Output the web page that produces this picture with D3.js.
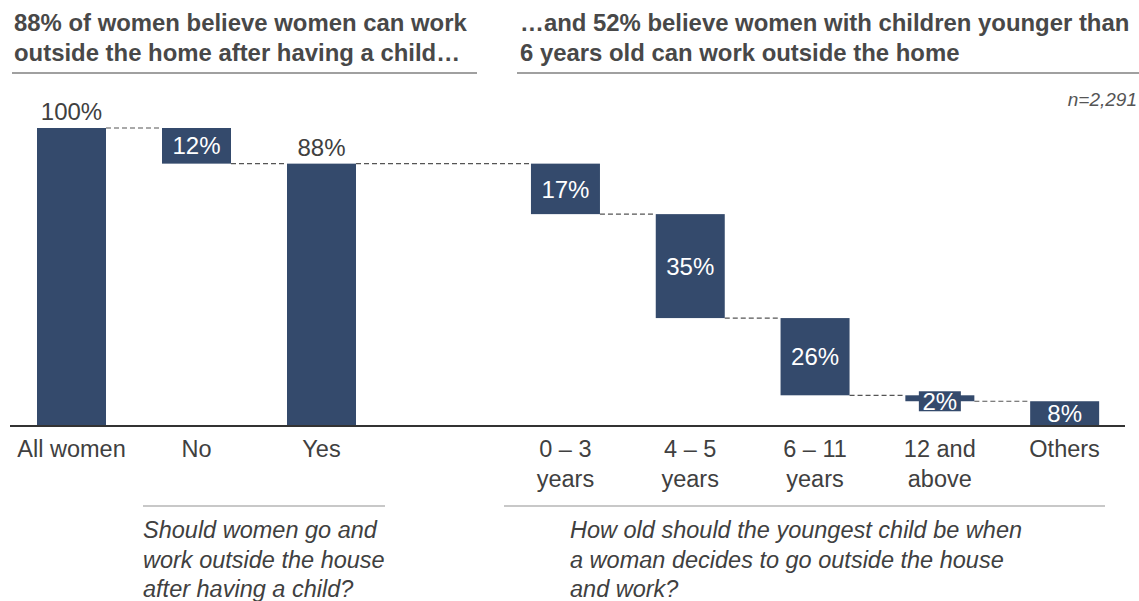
<!DOCTYPE html>
<html><head><meta charset="utf-8">
<script src="https://cdn.jsdelivr.net/npm/d3@7"></script>
<style>
body{margin:0;background:#fff;}
text{font-family:"Liberation Sans",Arial,sans-serif;}
</style></head>
<body><svg id="c" width="1139" height="601"></svg>
<script>
const leftCategories = ["All women","No","Yes"];
const rightCategories = ["0 – 3|years","4 – 5|years","6 – 11|years","12 and|above","Others"];
const categories = leftCategories.concat(rightCategories);
const values = [100, 12, 88, 17, 35, 26, 2, 8];
const kinds = ["total","down","total","down","down","down","down","down"];
const labels = ["100%","12%","88%","17%","35%","26%","2%","8%"];
const titles = [["88% of women believe women can work","outside the home after having a child…"],["…and 52% believe women with children younger than","6 years old can work outside the home"]];
const questions = [["Should women go and","work outside the house","after having a child?"],["How old should the youngest child be when","a woman decides to go outside the house","and work?"]];
const sampleNote = "n=2,291";

const svg = d3.select("#c");
const barColor = "#344a6c", textColor = "#404040";
const FS = 23.5, TFS = 23.9, LFS = 24;

const xL = d3.scaleBand().domain(leftCategories).range([9, 384]).paddingInner(0.448).paddingOuter(0.224);
const xR = d3.scaleBand().domain(rightCategories).range([503, 1127]).paddingInner(0.448).paddingOuter(0.224);
const xs = c => leftCategories.includes(c) ? xL(c) : xR(c);
const bw = xL.bandwidth();
const y = d3.scaleLinear().domain([0,100]).range([425,128]);

let level = 0;
const bars = categories.map((c,i)=>{
  let lo, hi;
  if (kinds[i]==="total"){ lo=0; hi=values[i]; level=values[i]; }
  else { hi=level; lo=level-values[i]; level=lo; }
  return {c, lo, hi, label:labels[i], kind:kinds[i]};
});

// titles
titles.forEach((t,k)=>{
  const x0 = k===0 ? 14 : 520;
  t.forEach((line,j)=>{
    svg.append("text").attr("x",x0).attr("y",31+j*30).attr("font-size",TFS).attr("font-weight","bold").attr("fill","#484848").text(line);
  });
});
svg.append("line").attr("x1",12).attr("x2",477).attr("y1",73).attr("y2",73).attr("stroke","#a0a0a0").attr("stroke-width",2);
svg.append("line").attr("x1",517).attr("x2",1139).attr("y1",73).attr("y2",73).attr("stroke","#a0a0a0").attr("stroke-width",2);

svg.append("text").attr("x",1137).attr("y",106).attr("text-anchor","end").attr("font-size",19).attr("font-style","italic").attr("fill","#555").text(sampleNote);

// connectors
for (let i=0;i<bars.length-1;i++){
  const a=bars[i], b=bars[i+1];
  svg.append("line").attr("x1",xs(a.c)+bw).attr("x2",xs(b.c))
    .attr("y1",y(b.hi)).attr("y2",y(b.hi))
    .attr("stroke","#555").attr("stroke-width",1.2).attr("stroke-dasharray","5,3");
}

// bars
svg.selectAll("rect.bar").data(bars).enter().append("rect").attr("class","bar")
  .attr("x",d=>xs(d.c)).attr("width",bw)
  .attr("y",d=>y(d.hi)).attr("height",d=>y(d.lo)-y(d.hi)).attr("fill",barColor);

// labels
bars.forEach(d=>{
  const cx = xs(d.c)+bw/2;
  if (d.kind==="total"){
    svg.append("text").attr("x",cx).attr("y",y(d.hi)-8).attr("text-anchor","middle").attr("font-size",LFS).attr("fill",textColor).text(d.label);
  } else {
    const h = y(d.lo)-y(d.hi);
    let cy = (y(d.lo)+y(d.hi))/2;
    if (h<20){
      cy += 3;
      svg.append("rect").attr("x",cx-21).attr("y",cy-10).attr("width",42).attr("height",20).attr("fill",barColor);
    }
    svg.append("text").attr("x",cx).attr("y",cy).attr("dy","0.36em").attr("text-anchor","middle").attr("font-size",LFS).attr("fill","#fff").text(d.label);
  }
});

// axes
function drawAxis(scale, cats){
  const ax = svg.append("g").attr("transform","translate(0,426)")
    .call(d3.axisBottom(scale).tickSize(0).tickValues(cats).tickFormat(()=>""));
  ax.select(".domain").remove();
  ax.selectAll(".tick").each(function(d){
    const g=d3.select(this);
    d.split("|").forEach((line,j)=>{
      g.append("text").attr("y",31+j*30).attr("text-anchor","middle").attr("font-size",FS).attr("fill",textColor).text(line);
    });
  });
}
drawAxis(xL, leftCategories);
drawAxis(xR, rightCategories);
svg.append("line").attr("x1",10).attr("x2",1125).attr("y1",426).attr("y2",426).attr("stroke","#333").attr("stroke-width",2);

// bottom question lines
svg.append("line").attr("x1",143).attr("x2",385).attr("y1",506).attr("y2",506).attr("stroke","#c8c8c8").attr("stroke-width",2);
svg.append("line").attr("x1",504).attr("x2",1105).attr("y1",506).attr("y2",506).attr("stroke","#c8c8c8").attr("stroke-width",2);
questions.forEach((q,k)=>{
  const x0 = k===0 ? 143 : 570;
  q.forEach((line,j)=>{
    svg.append("text").attr("x",x0).attr("y",538+j*29.5).attr("font-size",FS).attr("font-style","italic").attr("fill",textColor).text(line);
  });
});
</script></body></html>
